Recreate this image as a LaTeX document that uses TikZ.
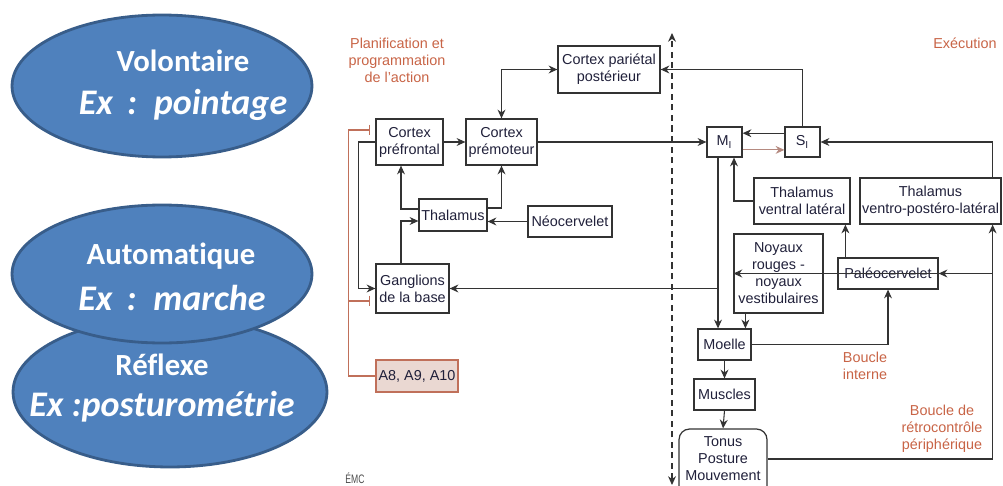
\documentclass[tikz,border=0pt]{standalone}
\usepackage{fontspec}
\setmainfont{Liberation Sans}
\newfontfamily\ovalfont[Ligatures=NoCommon]{Carlito}
\usetikzlibrary{arrows.meta,shapes.geometric}
\definecolor{ovalblue}{HTML}{4F81BD}
\definecolor{ovalline}{HTML}{385D8A}
\definecolor{planred}{HTML}{C86446}
\definecolor{inhibred}{HTML}{C0705A}
\definecolor{afill}{HTML}{EAD8D2}
\definecolor{loopbrown}{HTML}{B58A80}
\definecolor{boxtext}{HTML}{20203A}
\tikzset{
	box/.style={draw=black!80, line width=0.7pt, text=boxtext, align=center, inner sep=1pt, font=\fontsize{8.2}{9.7}\selectfont},
	arr/.style={draw=black!80, line width=0.6pt, -{Stealth[length=5pt,width=4.5pt]}},
	arrboth/.style={draw=black!80, line width=0.6pt, {Stealth[length=5pt,width=4.5pt]}-{Stealth[length=5pt,width=4.5pt]}},
	inhib/.style={draw=inhibred, line width=0.6pt, -{Bar[width=6pt]}, shorten >=2.8pt},
	redlabel/.style={text=planred, align=center, font=\fontsize{8.2}{9.7}\selectfont},
	oval/.style={ellipse, fill=ovalblue, draw=ovalline, line width=1.6pt, inner sep=0pt},
	ovaltitle/.style={text=white, font=\ovalfont\bfseries\fontsize{17.5}{17.5}\selectfont},
	ovalex/.style={text=white, font=\ovalfont\bfseries\itshape\fontsize{20.5}{20.5}\selectfont},
}
\begin{document}
\begin{tikzpicture}[x=0.02cm, y=-0.02cm]
	\useasboundingbox (0,0) rectangle (1003,486);
	% Ovals on the left
	\node[oval, minimum width=6.28cm, minimum height=3cm] (reflexe) at (170,392) {};
	\node[oval, minimum width=6cm, minimum height=2.76cm] (automatique) at (162,274) {};
	\node[oval, minimum width=6cm, minimum height=2.84cm] (volontaire) at (162,86) {};
	\node[ovaltitle] (volT) at (183,61) {Volontaire};
	\node[ovalex] (volE) at (183,105) {Ex \,:\, pointage};
	\node[ovaltitle] (autoT) at (171,256) {Automatique};
	\node[ovalex] (autoE) at (172,298) {Ex \,:\, marche};
	\node[ovaltitle] (reflT) at (162,365) {Réflexe};
	\node[ovalex] (reflE) at (162,407) {Ex :posturométrie};
	% Boxes of the planning side
	\node[box, minimum width=2.04cm, minimum height=0.94cm] (parietal) at (609,69.5) {Cortex pariétal\\postérieur};
	\node[box, minimum width=1.34cm, minimum height=0.92cm] (prefrontal) at (409.5,142) {Cortex\\préfrontal};
	\node[box, minimum width=1.42cm, minimum height=0.92cm] (premoteur) at (501.5,142) {Cortex\\prémoteur};
	\node[box, minimum width=1.36cm, minimum height=0.64cm] (thalamus) at (453,215) {Thalamus};
	\node[box, minimum width=1.68cm, minimum height=0.62cm] (neocervelet) at (570,221.5) {Néocervelet};
	\node[box, minimum width=1.46cm, minimum height=0.98cm] (ganglions) at (412.5,288.5) {Ganglions\\de la base};
	\node[box, draw=inhibred, fill=afill, minimum width=1.64cm, minimum height=0.64cm] (aten) at (417,376) {A8, A9, A10};
	% Boxes of the execution side
	\node[box, minimum width=0.7cm, minimum height=0.6cm] (M1) at (724.5,142) {M\textsubscript{I}};
	\node[box, minimum width=0.7cm, minimum height=0.6cm] (S1) at (802.5,142) {S\textsubscript{I}};
	\node[box, minimum width=1.92cm, minimum height=0.92cm] (VL) at (802,201) {Thalamus\\ventral latéral};
	\node[box, minimum width=2.82cm, minimum height=0.92cm] (VPL) at (930.5,201) {Thalamus\\ventro-postéro-latéral};
	\node[box, minimum width=1.78cm, minimum height=1.58cm] (noyaux) at (778.5,273.5) {Noyaux\\rouges -\\noyaux\\vestibulaires};
	\node[box, minimum width=2cm, minimum height=0.62cm] (paleo) at (888,273.5) {Paléocervelet};
	\node[box, minimum width=1.06cm, minimum height=0.62cm] (moelle) at (724.5,344.5) {Moelle};
	\node[box, minimum width=1.22cm, minimum height=0.62cm] (muscles) at (724.5,394.5) {Muscles};
	\node[box, rounded corners=6pt, minimum width=1.76cm, minimum height=1.54cm] (tonus) at (723,467.5) {Tonus\\Posture\\Mouvement\\\mbox{}};
	% Labels
	\node[redlabel] (plan) at (397,60) {Planification et\\programmation\\de l'action};
	\node[redlabel] (exec) at (965,43) {Exécution};
	\node[redlabel] (binterne) at (865,366) {Boucle\\interne};
	\node[redlabel] (bretro) at (942,429) {Boucle de\\rétrocontrôle\\périphérique};
	\node[text=black!70, font=\fontsize{7}{7}\selectfont, xscale=0.7] (emc) at (355,478) {ÉMC};
	% Dashed boundary
	\coordinate (dtop) at (672,33);
	\coordinate (dbot) at (672,485);
	\draw[arrboth, dash pattern=on 3.5pt off 2.5pt] (dbot) -- (dtop);
	% Connectors
	\foreach \a/\b in {prefrontal/premoteur, premoteur/M1, paleo/noyaux}
		\draw[arr] (\a.east) -- (\b.west);
	\foreach \a/\b in {moelle/muscles, muscles/tonus}
		\draw[arr] (\a.south) -- (\b.north);
	\draw[arrboth] (premoteur.north) |- (parietal.west);
	\draw[arr] (S1.north) |- (parietal.east);
	\draw[arr] ([yshift=5pt]S1.west) -- ([yshift=5pt]M1.east);
	\draw[arr, draw=loopbrown] ([yshift=-4.5pt]M1.east) -- ([yshift=-4.5pt]S1.west);
	\draw[arr] ([xshift=-0.18cm]VPL.north east) |- (S1.east);
	\draw[arr] (VL.west) -| ([xshift=0.19cm]M1.south);
	\coordinate (m1out) at ([xshift=-0.13cm]M1.south);
	\draw[arr] (m1out) -- (m1out |- moelle.north);
	\draw[arr] (m1out |- ganglions.east) -- (ganglions.east);
	\draw[arr] ([yshift=0.12cm]thalamus.west) -| ([xshift=-0.17cm]prefrontal.south);
	\draw[arr] ([yshift=0.14cm]thalamus.east) -| (premoteur.south);
	\draw[arr] (neocervelet.west) -- (neocervelet.west -| thalamus.east);
	\draw[arr] ([xshift=-0.23cm]ganglions.north) |- ([yshift=-0.12cm]thalamus.west);
	\draw[arr] (prefrontal.west) -- ++(-17,0) |- (ganglions.west);
	\coordinate (nyo) at ([xshift=0.24cm]noyaux.south west);
	\draw[arr] (nyo) -- (nyo |- moelle.north);
	\coordinate (pal) at ([xshift=0.16cm]paleo.north west);
	\draw[arr] (pal) -- (pal |- VL.south);
	\draw[arr] (moelle.east) -| (paleo.south);
	\coordinate (fb) at ([xshift=-0.18cm]VPL.south east);
	\draw[arr] ([yshift=0.17cm]tonus.east) -| (fb);
	\draw[arr] (fb |- paleo.east) -- (paleo.east);
	% Inhibition from A8, A9, A10
	\draw[inhib] (aten.west) -- ++(-27,0) coordinate (inh) |- ([yshift=0.24cm]prefrontal.west);
	\draw[inhib] (inh) |- ([yshift=-0.25cm]ganglions.west);
\end{tikzpicture}
\end{document}
